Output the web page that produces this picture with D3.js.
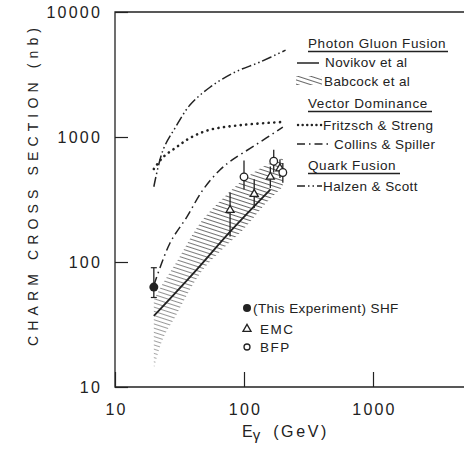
<!DOCTYPE html>
<html><head><meta charset="utf-8">
<script src="https://cdn.jsdelivr.net/npm/d3@7"></script>
<style>body{margin:0;background:#fff}svg{display:block}text{font-family:"Liberation Sans",Arial,sans-serif;fill:#222}</style>
</head><body><svg id="c" width="464" height="451"></svg>
<script>
// ---- data (E in GeV, sigma in nb) ----
const xTicks = [10, 100, 1000];
const yTicks = [10, 100, 1000, 10000];
const novikovE = [20, 40, 80, 160];
const novikovS = [37, 80, 180, 380];
const babcockE = [20, 22, 30, 45, 70, 98, 150, 200];
const babcockUpper = [50, 60, 100, 200, 330, 450, 600, 680];
const babcockLower = [14, 20, 38, 79, 130, 180, 300, 400];
const fritzschE = [20, 23.6, 30, 38, 54, 98, 200];
const fritzschS = [555, 690, 830, 980, 1140, 1250, 1320];
const collinsE = [20, 26.7, 36, 48, 65, 81, 120, 200];
const collinsS = [65, 142, 229, 377, 545, 655, 850, 1200];
const halzenE = [20, 23.6, 29.2, 38.1, 54.5, 85, 133, 210];
const halzenS = [400, 790, 1180, 1800, 2500, 3300, 3980, 4950];
// SHF (this experiment)
const shfE = [20], shfS = [63], shfLo = [52], shfHi = [90];
// EMC triangles
const emcE = [78, 120, 160, 190];
const emcS = [260, 350, 480, 560];
const emcLo = [160, 270, 390, 470];
const emcHi = [360, 460, 580, 660];
// BFP open circles
const bfpE = [100, 170, 200];
const bfpS = [480, 640, 520];
const bfpLo = [380, 520, 430];
const bfpHi = [650, 790, 620];

const svg = d3.select('#c');
const ink = '#222';
const x = d3.scaleLog().domain([10, 10000]).range([115, 502]);
const y = d3.scaleLog().domain([10, 10000]).range([387, 12]);

const defs = svg.append('defs');
const pat = defs.append('pattern').attr('id','hatch').attr('patternUnits','userSpaceOnUse')
  .attr('width',4).attr('height',4).attr('patternTransform','rotate(18)');
pat.append('line').attr('x1',0).attr('y1',0.5).attr('x2',4).attr('y2',0.5).attr('stroke','#555').attr('stroke-width',0.9);
const grad = defs.append('linearGradient').attr('id','fade').attr('gradientUnits','userSpaceOnUse')
  .attr('x1',150).attr('y1',370).attr('x2',240).attr('y2',220);
grad.append('stop').attr('offset',0).attr('stop-color','#888');
grad.append('stop').attr('offset',1).attr('stop-color','#fff');
const mask = defs.append('mask').attr('id','fm');
mask.append('rect').attr('x',0).attr('y',0).attr('width',464).attr('height',451).attr('fill','url(#fade)');
defs.append('clipPath').attr('id','clip').append('rect').attr('x',115).attr('y',12).attr('width',400).attr('height',375);

// frame
svg.append('path').attr('d','M515,12 H115 V387 H515').attr('fill','none').attr('stroke',ink).attr('stroke-width',1.3);
// y axis
const yAx = svg.append('g').attr('transform','translate(115,0)')
  .call(d3.axisLeft(y).tickValues(yTicks).tickSize(-13).tickPadding(13).tickFormat(d3.format('d')));
yAx.select('.domain').remove();
yAx.selectAll('line').attr('stroke',ink).attr('stroke-width',1.2);
yAx.selectAll('text').attr('font-size',16).attr('fill','#222').attr('dy','0.35em').attr('letter-spacing',2.2);
// x axis
const xAx = svg.append('g').attr('transform','translate(0,387)')
  .call(d3.axisBottom(x).tickValues(xTicks).tickSize(-15).tickPadding(17).tickFormat(d3.format('d')));
xAx.select('.domain').remove();
xAx.selectAll('line').attr('stroke',ink).attr('stroke-width',1.2);
xAx.selectAll('text').attr('font-size',16).attr('fill','#222').attr('dy','0.71em').attr('dx',1).attr('letter-spacing',2.2);

// axis titles
svg.append('text').attr('transform','translate(38,187) rotate(-90)').attr('text-anchor','middle')
  .attr('font-size',14).attr('textLength',318).attr('lengthAdjust','spacing').text('CHARM CROSS SECTION  (nb)');
const xt = svg.append('text').attr('x',242).attr('y',437).attr('font-size',16);
xt.append('tspan').text('E');
xt.append('tspan').attr('font-size',15).attr('dy',3).text('γ');
xt.append('tspan').attr('dy',-3).attr('dx',13).attr('font-size',16).attr('letter-spacing',2.6).text('(GeV)');

const plot = svg.append('g').attr('clip-path','url(#clip)');
const line = d3.line().x(d=>x(d[0])).y(d=>y(d[1])).curve(d3.curveCatmullRom.alpha(0.5));
const zip = (a,b)=>a.map((v,i)=>[v,b[i]]);

// Babcock band
const area = d3.area().x(d=>x(d[0])).y0(d=>y(d[2])).y1(d=>y(d[1])).curve(d3.curveMonotoneX);
plot.append('path').attr('d', area(babcockE.map((e,i)=>[e,babcockUpper[i],babcockLower[i]])))
  .attr('fill','url(#hatch)').attr('mask','url(#fm)');

plot.append('path').attr('d', line(zip(novikovE,novikovS))).attr('fill','none').attr('stroke',ink).attr('stroke-width',1.8);
plot.append('path').attr('d', line(zip(fritzschE,fritzschS))).attr('fill','none').attr('stroke',ink)
  .attr('stroke-width',2.6).attr('stroke-dasharray','0.1 5.5').attr('stroke-linecap','round');
plot.append('path').attr('d', line(zip(collinsE,collinsS))).attr('fill','none').attr('stroke',ink)
  .attr('stroke-width',1.5).attr('stroke-dasharray','9 4 1.5 4');
plot.append('path').attr('d', line(zip(halzenE,halzenS))).attr('fill','none').attr('stroke',ink)
  .attr('stroke-width',1.5).attr('stroke-dasharray','10 3 1.5 3 1.5 3');

// error bars + markers
function errs(E,Lo,Hi){
  E.forEach((e,i)=>{
    plot.append('line').attr('x1',x(e)).attr('x2',x(e)).attr('y1',y(Lo[i])).attr('y2',y(Hi[i])).attr('stroke',ink).attr('stroke-width',1.3);
  });
}
errs(shfE,shfLo,shfHi);
shfE.forEach((e,i)=>{
  [shfLo[i],shfHi[i]].forEach(v=>plot.append('line').attr('x1',x(e)-3).attr('x2',x(e)+3).attr('y1',y(v)).attr('y2',y(v)).attr('stroke',ink).attr('stroke-width',1.2));
  plot.append('circle').attr('cx',x(e)).attr('cy',y(shfS[i])).attr('r',4.5).attr('fill',ink);
});
errs(emcE,emcLo,emcHi);
const tri = d3.symbol().type(d3.symbolTriangle).size(28);
emcE.forEach((e,i)=>plot.append('path').attr('d',tri()).attr('transform',`translate(${x(e)},${y(emcS[i])})`).attr('fill','#fff').attr('stroke',ink).attr('stroke-width',1.3));
errs(bfpE,bfpLo,bfpHi);
bfpE.forEach((e,i)=>plot.append('circle').attr('cx',x(e)).attr('cy',y(bfpS[i])).attr('r',3.8).attr('fill','#fff').attr('stroke',ink).attr('stroke-width',1.3));

// legend top right
const L = svg.append('g');
function head(t,yb,x2){
  L.append('text').attr('x',308).attr('y',yb).attr('font-size',13.5).attr('letter-spacing',0.6).text(t);
  L.append('line').attr('x1',308).attr('x2',x2).attr('y1',yb+3.5).attr('y2',yb+3.5).attr('stroke',ink).attr('stroke-width',1.3);
}
function item(t,yb,tx){ L.append('text').attr('x',tx).attr('y',yb).attr('font-size',13.5).attr('letter-spacing',0.4).text(t); }
head('Photon Gluon Fusion',48,448);
L.append('line').attr('x1',297).attr('x2',319).attr('y1',63).attr('y2',63).attr('stroke',ink).attr('stroke-width',1.5);
item('Novikov et al',67,325);
L.append('rect').attr('x',296).attr('y',76).attr('width',26).attr('height',9).attr('fill','url(#hatch)');
item('Babcock et al',86,324);
head('Vector Dominance',108,432);
L.append('line').attr('x1',298).attr('x2',322).attr('y1',125).attr('y2',125).attr('stroke',ink).attr('stroke-width',2.4).attr('stroke-dasharray','0.1 4.5').attr('stroke-linecap','round');
item('Fritzsch & Streng',130,323);
L.append('line').attr('x1',297).attr('x2',329).attr('y1',144).attr('y2',144).attr('stroke',ink).attr('stroke-width',1.5).attr('stroke-dasharray','8 4 1.5 4');
item('Collins & Spiller',149,334);
head('Quark Fusion',170,400);
L.append('line').attr('x1',297).attr('x2',322).attr('y1',186).attr('y2',186).attr('stroke',ink).attr('stroke-width',1.5).attr('stroke-dasharray','8 3 1.5 3 1.5 3');
item('Halzen & Scott',191,323);

// legend bottom
const B = svg.append('g');
B.append('circle').attr('cx',247).attr('cy',308).attr('r',4).attr('fill',ink);
B.append('text').attr('x',253).attr('y',313).attr('font-size',13.5).attr('letter-spacing',0.4).text('(This Experiment) SHF');
B.append('path').attr('d',tri()).attr('transform','translate(247,329)').attr('fill','#fff').attr('stroke',ink).attr('stroke-width',1.3);
B.append('text').attr('x',260).attr('y',334).attr('font-size',13.5).attr('letter-spacing',1.5).text('EMC');
B.append('circle').attr('cx',247).attr('cy',347).attr('r',3).attr('fill','#fff').attr('stroke',ink).attr('stroke-width',1.3);
B.append('text').attr('x',260).attr('y',352).attr('font-size',13.5).attr('letter-spacing',1.5).text('BFP');
</script></body></html>
